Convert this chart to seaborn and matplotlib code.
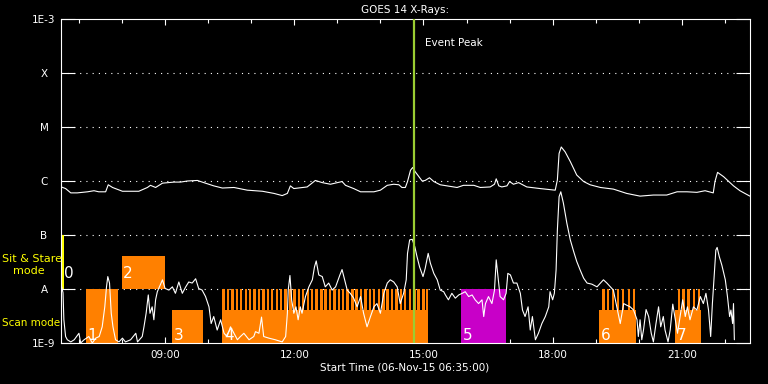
import matplotlib
matplotlib.use('Agg')
import matplotlib.pyplot as plt
import numpy as np
import pandas as pd
import seaborn as sns
from matplotlib.ticker import FixedLocator, NullLocator, FixedFormatter
from matplotlib.transforms import blended_transform_factory

# GOES 14 long channel (1-8 A): time in hours of 06-Nov-15, log10 flux (W/m^2)
longTime=[6.59,6.69,6.81,6.96,7.20,7.35,7.46,7.62,7.68,7.78,8.01,8.39,8.59,8.66,8.78,
          8.94,9.21,9.36,9.52,9.75,9.90,10.13,10.33,10.60,10.91,11.26,11.53,11.72,11.84,11.91,
          11.99,12.30,12.49,12.65,12.84,13.11,13.19,13.38,13.54,13.85,14.00,14.16,14.31,14.43,14.50,
          14.58,14.63,14.70,14.75,14.81,14.97,15.04,15.14,15.24,15.39,15.78,15.93,16.17,16.32,16.55,
          16.65,16.69,16.75,16.82,16.94,17.00,17.09,17.21,17.40,17.71,18.06,18.11,18.15,18.20,18.29,
          18.41,18.56,18.72,18.87,19.11,19.41,19.72,20.03,20.34,20.65,20.89,21.12,21.35,21.54,21.73,
          21.77,21.83,21.97,22.20,22.35,22.58]
longLog=[-6.11,-6.14,-6.22,-6.22,-6.20,-6.18,-6.20,-6.20,-6.07,-6.12,-6.19,-6.19,-6.12,-6.08,-6.12,
         -6.04,-6.02,-6.02,-6.00,-5.99,-6.03,-6.09,-6.13,-6.12,-6.17,-6.19,-6.23,-6.27,-6.23,-6.09,
         -6.14,-6.11,-5.99,-6.03,-6.06,-6.01,-6.08,-6.14,-6.20,-6.20,-6.17,-6.08,-6.06,-6.07,-6.12,
         -6.12,-6.01,-5.80,-5.75,-5.83,-6.00,-5.99,-5.94,-6.01,-6.07,-6.12,-6.08,-6.08,-6.12,-6.11,
         -6.06,-5.96,-6.09,-6.11,-6.09,-6.01,-6.06,-6.03,-6.11,-6.14,-6.17,-5.98,-5.49,-5.37,-5.46,
         -5.64,-5.89,-6.01,-6.07,-6.12,-6.15,-6.23,-6.28,-6.26,-6.26,-6.20,-6.20,-6.21,-6.18,-6.22,
         -6.01,-5.84,-5.92,-6.09,-6.18,-6.28]

# GOES 14 short channel (0.5-4 A)
shortTime=[6.60,6.63,6.65,6.69,6.73,6.81,6.89,7.00,7.04,7.12,7.23,7.31,7.39,7.47,7.54,7.60,7.64,7.67,7.71,7.75,
           7.79,7.85,7.93,8.01,8.08,8.20,8.32,8.36,8.47,8.51,8.56,8.61,8.65,8.70,8.74,8.78,8.82,8.87,8.94,9.00,
           9.09,9.17,9.24,9.32,9.40,9.48,9.55,9.63,9.71,9.78,9.86,9.94,10.02,10.07,10.13,10.21,10.29,10.37,10.44,10.52,
           10.60,10.68,10.75,10.83,10.95,11.06,11.10,11.18,11.24,11.29,11.41,11.56,11.72,11.80,11.84,11.86,11.90,11.94,11.99,12.04,
           12.09,12.14,12.18,12.26,12.34,12.42,12.47,12.51,12.57,12.65,12.72,12.80,12.88,12.96,13.06,13.11,13.17,13.23,13.30,13.38,
           13.46,13.54,13.61,13.69,13.77,13.85,13.92,14.00,14.08,14.16,14.23,14.31,14.39,14.46,14.54,14.60,14.63,14.68,14.74,14.80,
           14.85,14.91,14.99,15.04,15.11,15.16,15.24,15.32,15.39,15.47,15.51,15.58,15.66,15.74,15.82,15.90,15.97,16.05,16.13,16.20,
           16.28,16.36,16.40,16.44,16.51,16.59,16.65,16.69,16.73,16.78,16.86,16.92,16.96,17.02,17.09,17.17,17.25,17.30,17.36,17.43,
           17.48,17.53,17.60,17.67,17.75,17.83,17.91,17.94,18.00,18.04,18.08,18.11,18.15,18.19,18.25,18.33,18.41,18.49,18.56,18.64,
           18.72,18.80,18.91,19.03,19.11,19.18,19.26,19.34,19.41,19.49,19.57,19.65,19.72,19.80,19.88,19.96,19.99,20.03,20.07,20.11,
           20.17,20.23,20.29,20.34,20.40,20.46,20.51,20.57,20.61,20.68,20.73,20.79,20.85,20.90,20.96,21.02,21.08,21.13,21.19,21.27,
           21.35,21.43,21.50,21.56,21.62,21.67,21.71,21.75,21.79,21.82,21.87,21.93,22.01,22.06,22.11,22.14,22.18,22.20,22.22]
shortLog=[-7.96,-8.07,-8.57,-8.88,-8.94,-8.98,-8.94,-8.82,-9.00,-8.94,-8.88,-9.00,-8.91,-8.88,-8.70,-8.33,-7.96,-7.77,-7.89,-8.45,
          -8.70,-8.94,-8.98,-8.91,-8.98,-8.94,-8.82,-8.98,-8.88,-8.70,-8.45,-8.11,-8.45,-8.33,-8.57,-8.20,-8.05,-7.96,-7.83,-7.99,
          -8.02,-7.96,-8.08,-7.87,-8.08,-7.96,-7.87,-7.89,-7.81,-7.99,-8.02,-8.14,-8.33,-8.64,-8.51,-8.76,-8.57,-8.82,-8.88,-8.70,
          -8.82,-8.94,-8.88,-8.82,-8.94,-8.88,-8.79,-8.82,-8.52,-8.88,-8.91,-8.94,-8.98,-8.88,-8.45,-8.02,-7.75,-8.20,-8.45,-8.33,
          -8.57,-8.33,-8.45,-8.14,-7.96,-7.83,-7.59,-7.48,-7.74,-7.77,-7.96,-7.89,-8.02,-7.96,-7.74,-7.64,-7.83,-8.02,-8.08,-8.17,
          -8.33,-8.14,-8.45,-8.70,-8.51,-8.33,-8.27,-8.45,-8.08,-7.89,-7.83,-7.87,-7.96,-8.27,-8.08,-7.83,-7.34,-7.09,-7.08,-7.22,
          -7.40,-7.59,-7.77,-7.62,-7.34,-7.52,-7.71,-7.83,-8.02,-8.05,-8.11,-8.20,-8.08,-8.17,-8.11,-8.08,-8.05,-8.14,-8.11,-8.20,
          -8.27,-8.20,-8.51,-8.27,-8.14,-8.27,-8.02,-7.46,-7.77,-8.14,-8.20,-8.08,-7.71,-7.74,-7.89,-7.89,-8.08,-8.39,-8.51,-8.33,
          -8.76,-8.51,-8.94,-8.82,-8.64,-8.51,-8.33,-8.05,-8.20,-8.08,-7.65,-6.91,-6.29,-6.20,-6.41,-6.78,-7.09,-7.31,-7.49,-7.65,
          -7.80,-7.89,-7.91,-7.96,-7.89,-7.83,-7.89,-7.96,-8.02,-8.33,-8.64,-8.27,-8.30,-8.33,-8.39,-8.57,-8.88,-8.57,-8.94,-8.76,
          -8.38,-8.51,-8.82,-8.98,-8.64,-8.33,-8.70,-8.51,-8.76,-8.98,-8.76,-8.28,-8.57,-8.82,-8.51,-8.20,-8.51,-8.33,-8.57,-8.33,
          -8.39,-8.14,-8.27,-8.08,-8.39,-8.88,-8.27,-7.77,-7.28,-7.23,-7.40,-7.56,-7.83,-8.14,-8.51,-8.39,-8.64,-8.27,-8.94]

# observing blocks
blockName=['0','1','2','3','4','5','6','7']
blockStart=[6.61,7.16,7.99,9.17,10.33,15.88,19.08,20.85]
blockEnd=[6.645,7.90,9.01,9.89,15.11,16.92,19.94,21.45]
blockLow=[1e-8,1e-9,1e-8,1e-9,1e-9,1e-9,1e-9,1e-9]
blockHigh=[1e-7,1e-8,4.1e-8,4.1e-9,4.1e-9,1e-8,4.1e-9,4.1e-9]
blockMode=['flag','scan','stare','scan','scan','target','scan','scan']

# scan frames inside blocks 4, 6 and 7
frameStart=[10.33,10.43,10.54,10.64,10.74,10.85,10.95,11.05,11.15,11.26,11.36,11.46,11.57,11.67,11.77,
            11.88,11.98,12.08,12.18,12.29,12.39,12.49,12.60,12.70,12.80,12.91,13.01,13.11,13.21,13.32,
            13.42,13.52,13.63,13.73,13.83,13.94,14.04,14.14,14.24,14.35,14.45,14.55,14.66,14.76,14.86,
            14.97,15.05,
            19.15,19.26,19.37,19.49,19.61,19.74,19.86,
            20.90,21.01,21.13,21.26,21.37]
frameLow=4.1e-9
frameHigh=1e-8

eventPeak=14.77
startHour=6.5833
endHour=22.5833
levelPos=[1e-9,1e-8,1e-7,1e-6,1e-5,1e-4,1e-3]
levelName=['1E-9','A','B','C','M','X','1E-3']
hourMajor=[9,12,15,18,21]
hourMinor=list(range(7,23))

######### styles ######################
ORANGE='#ff8000'
modeColor={'flag':'#ffff00','scan':ORANGE,'stare':ORANGE,'target':'#c800c8'}
FRAME_WIDTH=0.056
FS=7.5

sns.set_theme(style='ticks',rc={'figure.facecolor':'black','axes.facecolor':'black',
                                'axes.edgecolor':'white','text.color':'white',
                                'xtick.color':'white','ytick.color':'white',
                                'axes.linewidth':0.8})
plt.rcParams['font.family']=['DejaVu Sans']

fig=plt.figure(figsize=(7.68,3.84),dpi=100)
ax=fig.add_axes([61/768,41/384,689/768,324/384])
ax.set_yscale('log')

# blocks
for i in range(len(blockName)):
    ax.bar(blockStart[i],blockHigh[i]-blockLow[i],bottom=blockLow[i],
           width=blockEnd[i]-blockStart[i],align='edge',color=modeColor[blockMode[i]],
           linewidth=0,antialiased=False,zorder=1)
ax.bar(frameStart,frameHigh-frameLow,bottom=frameLow,width=FRAME_WIDTH,align='edge',
       color=ORANGE,linewidth=0,antialiased=False,zorder=1)

# dotted level lines
for lev in levelPos[1:-1]:
    ax.axhline(lev,color='white',lw=0.8,linestyle=(0,(1,4.6)),zorder=0.5)

# flux curves
longDf=pd.DataFrame({'time':longTime,'flux':10**np.array(longLog)})
shortDf=pd.DataFrame({'time':shortTime,'flux':10**np.array(shortLog)})
sns.lineplot(data=longDf,x='time',y='flux',ax=ax,color='white',lw=0.8,estimator=None,sort=False,zorder=3)
sns.lineplot(data=shortDf,x='time',y='flux',ax=ax,color='white',lw=0.8,estimator=None,sort=False,zorder=3)

# block labels
for i in range(len(blockName)):
    dy=2 if blockLow[i]<5e-9 else 8
    ax.annotate(blockName[i],(blockStart[i],blockLow[i]),xytext=(1.2,dy),textcoords='offset points',
                color='white',fontsize=11,va='baseline',ha='left',zorder=5)

# event peak
ax.axvline(eventPeak,color='#9acd32',lw=1.6,zorder=4)
trans=blended_transform_factory(ax.transData,ax.transAxes)
ax.annotate('Event Peak',(eventPeak,0.926),xycoords=trans,xytext=(8,0),textcoords='offset points',
            fontsize=FS,va='center',ha='left',color='white')

ax.set_xlim(startHour,endHour)
ax.set_ylim(1e-9,1e-3)
ax.xaxis.set_major_locator(FixedLocator(hourMajor))
ax.xaxis.set_major_formatter(FixedFormatter(['%02d:00'%h for h in hourMajor]))
ax.xaxis.set_minor_locator(FixedLocator(hourMinor))
ax.yaxis.set_major_locator(FixedLocator(levelPos))
ax.yaxis.set_major_formatter(FixedFormatter(levelName))
ax.yaxis.set_minor_locator(NullLocator())
ax.tick_params(axis='x',which='major',direction='in',top=True,bottom=True,length=4.3,width=0.8,
               labelsize=FS,pad=5)
ax.tick_params(axis='x',which='minor',direction='in',top=True,bottom=True,length=2.9,width=0.8)
ax.tick_params(axis='y',which='major',direction='in',left=True,right=True,length=10,width=0.8,
               labelsize=FS,pad=12.2)
for lab in ax.get_yticklabels():
    lab.set_horizontalalignment('center')
ax.set_xlabel('')
ax.set_ylabel('')
for sp in ax.spines.values():
    sp.set_color('white')
    sp.set_visible(True)

ax.set_title('GOES 14 X-Rays:',fontsize=FS,color='white',pad=4.5)
fig.text(405/768,1-368/384,'Start Time (06-Nov-15 06:35:00)',fontsize=FS,ha='center',va='center',color='white')
fig.text(2/768,1-259/384,'Sit & Stare',fontsize=8,ha='left',va='center',color='yellow')
fig.text(13/768,1-271/384,'mode',fontsize=8,ha='left',va='center',color='yellow')
fig.text(2/768,1-323/384,'Scan mode',fontsize=FS,ha='left',va='center',color='yellow')

fig.savefig('out.png',dpi=100,facecolor='black')
